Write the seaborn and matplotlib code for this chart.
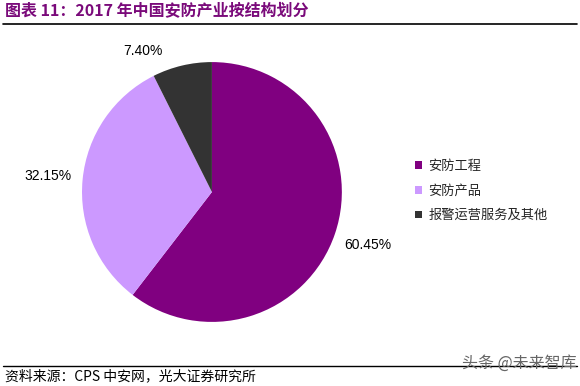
import matplotlib.pyplot as plt
import seaborn as sns
from matplotlib.lines import Line2D
from matplotlib.patches import Patch

# data
categories = ['安防工程', '安防产品', '报警运营服务及其他']
shares = [60.45, 32.15, 7.40]
colors = ['#800080', '#CC99FF', '#333333']

sns.set_theme(style='white')
plt.rcParams['font.family'] = ['Noto Sans CJK SC', 'DejaVu Sans']

fig = plt.figure(figsize=(5.8, 3.86), dpi=100)
ax = fig.add_axes([0.1414, 0.1658, 0.448, 0.6736])

wedges, texts, autotexts = ax.pie(
    shares, colors=colors, startangle=90, counterclock=False,
    autopct=lambda p: f'{p:.2f}%', pctdistance=1.27,
    wedgeprops=dict(linewidth=0),
    textprops=dict(fontsize=10, family='Liberation Sans', color='#000000'))
ax.set_aspect('equal')
ax.set_xlim(-1, 1)
ax.set_ylim(-1, 1)

# small slice label sits further left in the original
x, y = autotexts[2].get_position()
autotexts[2].set_position((x - 0.24, y - 0.15))

handles = [Patch(facecolor=c, edgecolor='none') for c in colors]
fig.legend(handles, categories, loc='center left', bbox_to_anchor=(0.695, 0.505),
           frameon=False, fontsize=9.5, handlelength=0.55, handleheight=0.55,
           handletextpad=0.45, labelspacing=0.88)

fig.text(0.008, 0.972, '图表 11：2017 年中国安防产业按结构划分', fontsize=11.5,
         fontweight='bold', color='#7A0A7A', va='center', ha='left')
fig.add_artist(Line2D([0.005, 0.995], [0.937, 0.937], color='black', lw=1.2))
fig.add_artist(Line2D([0.005, 0.995], [0.052, 0.052], color='black', lw=1.0))
fig.text(0.008, 0.025, '资料来源：CPS 中安网，光大证券研究所', fontsize=10,
         color='#000000', va='center', ha='left')
fig.text(0.995, 0.058, '头条 @未来智库', fontsize=11.5, color='#666666',
         va='center', ha='right')

plt.savefig('out.png', dpi=100)
